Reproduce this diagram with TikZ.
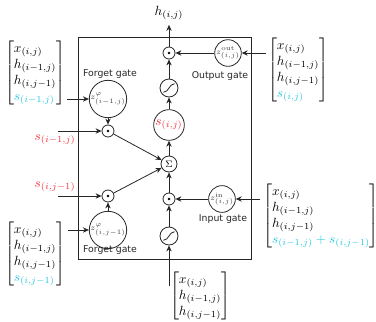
\documentclass[tikz,border=0pt]{standalone}
\usepackage{amsmath}
\usepackage{fontspec}
\newfontfamily\labfont{DejaVu Sans}
\usetikzlibrary{arrows.meta}
\definecolor{sred}{RGB}{245,50,60}
\definecolor{scyan}{RGB}{40,200,225}
\begin{document}
\begin{tikzpicture}[x=0.75pt,y=-0.75pt,
 line width=0.6pt,
 >={Stealth[length=4.5pt,width=4pt]},
 conn/.style={->, draw=black!85},
 mult/.style={circle,draw=black!85,minimum size=9pt,inner sep=0pt,
   path picture={\fill (path picture bounding box.center) circle (1.1pt);}},
 sig/.style={circle,draw=black!85,minimum size=13.5pt,inner sep=0pt,
   path picture={\draw ([xshift=-4.2pt,yshift=-3.2pt]path picture bounding box.center)
     .. controls +(4.2pt,0pt) and +(-4.2pt,0pt) .. ([xshift=4.2pt,yshift=3.2pt]path picture bounding box.center);}},
 sumnode/.style={circle,draw=black!85,minimum size=12pt,inner sep=0pt,font=\scriptsize},
 fgate/.style={circle,draw=black!85,minimum size=22pt,inner sep=0pt,font=\fontsize{6}{7}\selectfont,text=black!75},
 iogate/.style={circle,draw=black!85,minimum size=19pt,inner sep=0pt,font=\fontsize{6}{7}\selectfont,text=black!75},
 snode/.style={circle,draw=black!85,minimum size=23pt,inner sep=0pt,text=sred},
 glabel/.style={font=\labfont\fontsize{7}{8}\selectfont, text=black!85},
 vec/.style={inner sep=0pt},
 slab/.style={text=sred,inner sep=0pt},
]
\useasboundingbox (0,0) rectangle (376,322);

% main box
\draw[black!85] (78,37) rectangle (251,259);

% central column
\node (h) at (169,13) {$h_{(i,j)}$};
\node[mult] (mo) at (169,53) {};
\node[sig] (t1) at (169,88) {};
\node[snode] (s) at (169,125) {$s_{(i,j)}$};
\node[sumnode] (sum) at (169,164) {$\Sigma$};
\node[mult] (mi) at (169,199) {};
\node[sig] (t2) at (169,236) {};
\coordinate (bin) at (169,286);

% gates
\node[iogate] (go) at (228,53) {$z^{\text{out}}_{(i,j)}$};
\node[glabel] at (220,76) {Output gate};
\node[iogate] (gi) at (222,199) {$z^{\text{in}}_{(i,j)}$};
\node[glabel] at (223,219) {Input gate};
\node[fgate] (gf1) at (108,99) {$z^{\varphi}_{(i-1,j)}$};
\node[glabel] at (110,74) {Forget gate};
\node[mult] (mf1) at (108,131) {};
\node[fgate] (gf2) at (108,230) {$z^{\varphi}_{(i,j-1)}$};
\node[glabel] at (110,250) {Forget gate};
\node[mult] (mf2) at (108,196) {};

% state inputs
\node[slab] (sl1) at (55,140) {$s_{(i-1,j)}$};
\coordinate (sa1) at (58,131);
\node[slab] (sl2) at (55,187) {$s_{(i,j-1)}$};
\coordinate (sa2) at (58,196);

% input vectors
\node[vec] (ML1) at (35,73) {$\left[\begin{array}{@{}l@{}}x_{(i,j)}\\ h_{(i-1,j)}\\ h_{(i,j-1)}\\ \color{scyan}s_{(i-1,j)}\end{array}\right]$};
\node[vec] (ML2) at (35,254) {$\left[\begin{array}{@{}l@{}}x_{(i,j)}\\ h_{(i-1,j)}\\ h_{(i,j-1)}\\ \color{scyan}s_{(i,j-1)}\end{array}\right]$};
\node[vec] (MR1) at (298,70) {$\left[\begin{array}{@{}l@{}}x_{(i,j)}\\ h_{(i-1,j)}\\ h_{(i,j-1)}\\ \color{scyan}s_{(i,j)}\end{array}\right]$};
\node[vec] (MR2) at (321,216) {$\left[\begin{array}{@{}l@{}}x_{(i,j)}\\ h_{(i-1,j)}\\ h_{(i,j-1)}\\ \color{scyan}s_{(i-1,j)}+s_{(i,j-1)}\end{array}\right]$};
\node[vec] (MB) at (200,296) {$\left[\begin{array}{@{}l@{}}x_{(i,j)}\\ h_{(i-1,j)}\\ h_{(i,j-1)}\end{array}\right]$};

% connectors
\draw[conn] (bin) -- (t2);
\draw[conn] (t2) -- (mi);
\draw[conn] (mi) -- (sum);
\draw[conn] (gi) -- (mi);
\draw[conn] ([xshift=-2pt]MR2.west |- gi) -- (gi);
\draw[conn] (sum) -- (s);
\draw[conn] (s) -- (t1);
\draw[conn] (t1) -- (mo);
\draw[conn] (go) -- (mo);
\draw[conn] ([xshift=-1pt]MR1.west |- go) -- (go);
\draw[conn] (mo) -- (h);
\draw[conn] ([xshift=1pt]ML1.east |- gf1) -- (gf1);
\draw[conn] (gf1) -- (mf1);
\draw[conn] (sa1) -- (mf1);
\draw[conn] (mf1) -- (sum);
\draw[conn] ([xshift=2pt]ML2.east |- gf2) -- (gf2);
\draw[conn] (gf2) -- (mf2);
\draw[conn] (sa2) -- (mf2);
\draw[conn] (mf2) -- (sum);
\end{tikzpicture}
\end{document}
